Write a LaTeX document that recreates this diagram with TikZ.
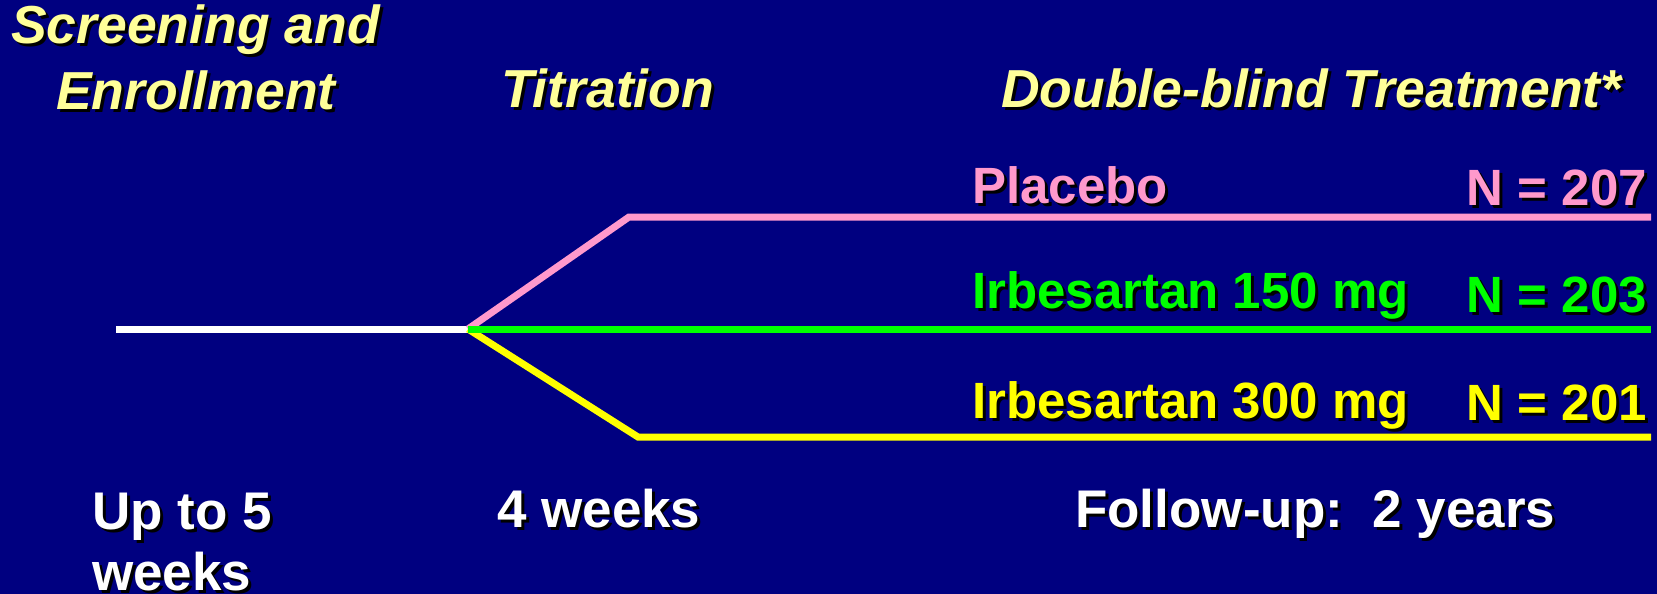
\documentclass[tikz,border=0pt]{standalone}
\usepackage{fontspec}
\setmainfont{Liberation Sans}
\definecolor{bgnavy}{HTML}{000080}
\definecolor{paleyel}{HTML}{FFFF99}
\definecolor{pinkc}{HTML}{FF99CC}
\definecolor{greenc}{HTML}{00FF00}
\definecolor{yelc}{HTML}{FFFF00}
\newcommand{\shtxt}[1]{\makebox[0pt][l]{\hspace{3pt}\raisebox{-3pt}{\color{black}#1}}#1}
\tikzset{
  lbl/.style={inner sep=0pt, anchor=base west, font=\fontsize{51}{60}\selectfont\bfseries},
  btm/.style={lbl, text=white, font=\fontsize{53}{62}\selectfont\bfseries},
  head/.style={lbl, text=paleyel, font=\fontsize{53.5}{62}\selectfont\bfseries\itshape},
  arm/.style={line width=7pt, line cap=butt, line join=miter}
}
\begin{document}
\begin{tikzpicture}[x=1pt,y=-1pt]
\fill[bgnavy] (0,0) rectangle (1657,594);
\useasboundingbox (0,0) rectangle (1657,594);
% headings
\node[head] (scr) at (11,44) {\shtxt{Screening and}};
\node[head] (enr) at (56,109) {\shtxt{Enrollment}};
\node[head] (tit) at (501,107) {\shtxt{Titration}};
\node[head] (dbt) at (1001,107) {\shtxt{Double-blind Treatment*}};
% arm labels
\node[lbl, text=pinkc] (plc) at (972,203) {\shtxt{Placebo}};
\node[lbl, text=pinkc, anchor=base east] (n1) at (1647,205) {\shtxt{N = 207}};
\node[lbl, text=greenc] (ib1) at (972,308) {\shtxt{Irbesartan 150 mg}};
\node[lbl, text=greenc, anchor=base east] (n2) at (1647,312) {\shtxt{N = 203}};
\node[lbl, text=yelc] (ib2) at (972,418) {\shtxt{Irbesartan 300 mg}};
\node[lbl, text=yelc, anchor=base east] (n3) at (1647,420) {\shtxt{N = 201}};
% bottom labels
\node[btm] (up1) at (92,529) {\shtxt{Up to 5}};
\node[btm] (up2) at (92,590) {\shtxt{weeks}};
\node[btm] (fw) at (497,527) {\shtxt{4 weeks}};
\node[btm] (fu) at (1075,527) {\shtxt{Follow-up:\ \ 2 years}};
% lines
\coordinate (st) at (116,329);
\coordinate (jn) at (468,329);
\coordinate (pc) at (629,217);
\coordinate (pe) at (1651,217);
\coordinate (ge) at (1651,329);
\coordinate (yc) at (638,437);
\coordinate (ye) at (1651,437);
\draw[arm, white] (st) -- (jn);
\draw[arm, yelc] (jn) -- (yc) -- (ye);
\draw[arm, pinkc] (jn) -- (pc) -- (pe);
\draw[arm, greenc] (jn) -- (ge);
\end{tikzpicture}
\end{document}
